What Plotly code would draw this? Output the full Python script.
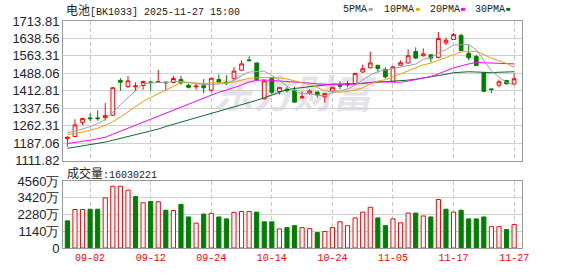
import base64
import plotly.graph_objects as go

# ---------------- data ----------------
dates = ["08-28", "08-29", "09-01", "09-02", "09-03", "09-04", "09-05", "09-08", "09-09", "09-10",
         "09-11", "09-12", "09-15", "09-16", "09-17", "09-18", "09-19", "09-22", "09-23", "09-24",
         "09-25", "09-26", "09-29", "09-30", "10-09", "10-10", "10-13", "10-14", "10-15", "10-16",
         "10-17", "10-20", "10-21", "10-22", "10-23", "10-24", "10-27", "10-28", "10-29", "10-30",
         "10-31", "11-03", "11-04", "11-05", "11-06", "11-07", "11-10", "11-11", "11-12", "11-13",
         "11-14", "11-17", "11-18", "11-19", "11-20", "11-21", "11-24", "11-25", "11-26", "11-27"]

opens = [1207, 1216, 1277, 1296, 1296, 1297, 1308, 1458, 1431, 1430,
         1436, 1451, 1449, 1447, 1449, 1462, 1437, 1430, 1435, 1416,
         1462, 1450, 1465, 1502, 1546, 1533, 1378, 1470, 1410, 1420,
         1414, 1383, 1403, 1408, 1387, 1411, 1436, 1438, 1442, 1494,
         1512, 1523, 1505, 1453, 1523, 1533, 1582, 1564, 1568, 1557,
         1620, 1634, 1652, 1575, 1561, 1491, 1421, 1437, 1457, 1442]
highs = [1216, 1290, 1297, 1315, 1329, 1360, 1430, 1467, 1477, 1449,
         1457, 1456, 1503, 1452, 1477, 1477, 1444, 1442, 1463, 1468,
         1483, 1480, 1515, 1544, 1561, 1535, 1458, 1472, 1430, 1430,
         1430, 1410, 1420, 1409, 1403, 1430, 1455, 1456, 1491, 1526,
         1582, 1524, 1515, 1521, 1544, 1592, 1600, 1596, 1572, 1666,
         1642, 1662, 1659, 1610, 1568, 1495, 1422, 1462, 1460, 1488]
lows = [1172, 1214, 1266, 1283, 1284, 1284, 1305, 1413, 1425, 1412,
        1418, 1414, 1447, 1414, 1445, 1439, 1423, 1418, 1402, 1407,
        1447, 1438, 1462, 1500, 1540, 1456, 1376, 1400, 1397, 1406,
        1362, 1378, 1395, 1384, 1362, 1408, 1420, 1428, 1438, 1491,
        1510, 1491, 1466, 1450, 1521, 1530, 1550, 1561, 1536, 1553,
        1610, 1632, 1584, 1544, 1519, 1408, 1403, 1428, 1440, 1440]
closes = [1213, 1266, 1293, 1293, 1293, 1306, 1426, 1450, 1456, 1434,
          1453, 1449, 1452, 1450, 1466, 1447, 1428, 1433, 1426, 1467,
          1451, 1448, 1498, 1529, 1543, 1462, 1456, 1407, 1428, 1414,
          1364, 1387, 1412, 1395, 1401, 1428, 1433, 1442, 1488, 1508,
          1533, 1509, 1473, 1516, 1534, 1564, 1554, 1572, 1554, 1638,
          1631, 1655, 1586, 1555, 1522, 1411, 1419, 1452, 1443, 1465]

# volume in 万 (10k units); 1 = up day (red hollow), 0 = down day (green)
volumes = [1850, 2623, 2623, 2643, 2643, 3415, 4207, 4207, 3943, 3503,
           3084, 3172, 3150, 2577, 2555, 2974, 2115, 1696, 2313, 2357,
           2115, 1983, 2423, 2489, 2489, 2445, 1784, 1784, 1300, 1388,
           1520, 1388, 1322, 1057, 1124, 1388, 1784, 1520, 2049, 2445,
           2776, 2049, 1520, 1983, 1718, 2379, 2379, 2181, 2115, 3304,
           2643, 2445, 2577, 1983, 1983, 2115, 1454, 1454, 1256, 1603]
vol_up = [0, 1, 1, 0, 0, 1, 1, 1, 1, 0,
          1, 0, 1, 0, 1, 0, 0, 1, 0, 1,
          0, 0, 1, 1, 1, 0, 0, 0, 1, 0,
          0, 1, 1, 0, 1, 1, 1, 1, 1, 1,
          1, 0, 0, 1, 1, 1, 0, 1, 0, 1,
          0, 1, 0, 0, 0, 0, 1, 1, 0, 1]

ma5 = [1231, 1238, 1248, 1259, 1272, 1290, 1322, 1354, 1386, 1414,
       1444, 1448, 1449, 1448, 1454, 1453, 1449, 1445, 1440, 1440,
       1441, 1445, 1458, 1479, 1494, 1496, 1498, 1479, 1459, 1433,
       1414, 1400, 1401, 1394, 1392, 1405, 1414, 1420, 1438, 1460,
       1481, 1496, 1502, 1508, 1513, 1519, 1528, 1548, 1556, 1576,
       1590, 1610, 1613, 1613, 1590, 1546, 1499, 1472, 1449, 1438]
ma10 = [1224, 1229, 1235, 1243, 1252, 1265, 1280, 1300, 1322, 1343,
        1367, 1385, 1401, 1417, 1434, 1448, 1449, 1447, 1444, 1447,
        1447, 1447, 1451, 1459, 1467, 1469, 1471, 1469, 1469, 1464,
        1455, 1449, 1440, 1427, 1413, 1409, 1407, 1410, 1416, 1426,
        1443, 1455, 1461, 1473, 1486, 1500, 1512, 1525, 1532, 1545,
        1555, 1569, 1580, 1584, 1583, 1568, 1554, 1542, 1531, 1514]
ma20 = [1186, 1190, 1195, 1200, 1206, 1213, 1226, 1239, 1252, 1265,
        1278, 1291, 1304, 1317, 1329, 1341, 1354, 1367, 1381, 1395,
        1407, 1416, 1426, 1438, 1451, 1458, 1460, 1458, 1456, 1455,
        1451, 1448, 1446, 1443, 1440, 1439, 1439, 1440, 1443, 1445,
        1449, 1452, 1451, 1450, 1450, 1455, 1460, 1468, 1474, 1485,
        1499, 1512, 1521, 1529, 1535, 1534, 1533, 1534, 1532, 1529]
ma30 = [1165, 1170, 1175, 1180, 1186, 1192, 1200, 1208, 1215, 1223,
        1230, 1238, 1248, 1259, 1269, 1280, 1289, 1297, 1306, 1315,
        1324, 1333, 1342, 1351, 1361, 1372, 1383, 1395, 1407, 1418,
        1423, 1427, 1431, 1434, 1438, 1442, 1442, 1442, 1443, 1446,
        1448, 1450, 1451, 1453, 1455, 1459, 1463, 1468, 1472, 1478,
        1484, 1491, 1494, 1495, 1494, 1492, 1491, 1493, 1493, 1495]

price_ticks = [1111.82, 1187.06, 1262.31, 1337.56, 1412.81, 1488.06, 1563.31, 1638.56, 1713.81]
price_tick_labels = ["1111.82", "1187.06", "1262.31", "1337.56", "1412.81",
                     "1488.06", "1563.31", "1638.56", "1713.81"]
vol_ticks = [0, 1140, 2280, 3420, 4560]
vol_tick_labels = ["0", "1140万", "2280万", "3420万", "4560万"]
date_ticks = ["09-02", "09-12", "09-24", "10-14", "10-24", "11-05", "11-17", "11-27"]

title_name = "电池"
title_code = "[BK1033] 2025-11-27 15:00"
vol_title = "成交量"
vol_value = ":16030221"
ma_names = ["5PMA", "10PMA", "20PMA", "30PMA"]
ma_colors = ["#a0a0a0", "#f0a000", "#ff00ff", "#0b6b2e"]

# ---------------- style ----------------
RED = "#ff0000"
GREEN = "#008000"
W, H = 578, 276
ML, MR, MT, MB = 55, 56, 21, 21
PW, PH = W - ML - MR, H - MT - MB
MONO = "Liberation Mono, DejaVu Sans Mono, monospace"
CJK = "Noto Sans CJK SC"
TXT = 10


def px(x):
    return (x - ML) / PW


def py(y):
    return (H - MB - y) / PH


fig = go.Figure()

fig.add_trace(go.Candlestick(
    x=dates, open=opens, high=highs, low=lows, close=closes,
    increasing=dict(line=dict(color=RED, width=1), fillcolor="#ffffff"),
    decreasing=dict(line=dict(color=GREEN, width=1), fillcolor=GREEN),
    whiskerwidth=0, xaxis="x", yaxis="y", hoverinfo="skip"))

for vals, col in zip([ma30, ma20, ma10, ma5], ma_colors[::-1]):
    fig.add_trace(go.Scatter(x=dates, y=vals, mode="lines",
                             line=dict(color=col, width=1),
                             xaxis="x", yaxis="y", hoverinfo="skip"))

fig.add_trace(go.Bar(
    x=dates, y=volumes,
    marker=dict(color=["#ffffff" if u else GREEN for u in vol_up],
                line=dict(color=[RED if u else GREEN for u in vol_up], width=1)),
    xaxis="x2", yaxis="y2", hoverinfo="skip"))

xcommon = dict(type="category", categoryorder="array", categoryarray=dates,
               range=[-0.58, 60.04], tickvals=date_ticks, ticktext=date_ticks,
               showgrid=True, gridcolor="#c8c8c8", griddash="4px,3px", gridwidth=1,
               showline=True, mirror=True, linecolor="#999999", linewidth=1,
               ticks="", zeroline=False, fixedrange=True)

ycommon = dict(showgrid=True, gridcolor="#d0d0d0", gridwidth=1,
               showline=True, mirror=True, linecolor="#999999", linewidth=1,
               ticks="", zeroline=False,
               tickfont=dict(family="Liberation Sans, Arial", size=13, color="#222233"))

# watermark as an SVG image underneath the traces
wm_svg = ('<svg xmlns="http://www.w3.org/2000/svg" width="180" height="46">'
          '<text x="2" y="40" font-family="Noto Sans CJK SC" font-weight="bold" '
          'font-size="42" fill="#e3e3e9" transform="skewX(-12) translate(8,0)">东方财富</text></svg>')
wm_src = "data:image/svg+xml;base64," + base64.b64encode(wm_svg.encode("utf-8")).decode("ascii")

annotations = [
    dict(x=px(56), y=py(9), xref="paper", yref="paper", xanchor="left", yanchor="middle",
         showarrow=False, align="left",
         text=f'<span style="font-family:{CJK};font-size:12px">{title_name}</span>{title_code}',
         font=dict(family=MONO, size=TXT, color="#222222")),
    dict(x=px(57), y=py(177), xref="paper", yref="paper", xanchor="left", yanchor="middle",
         showarrow=False, align="left",
         text=f'<span style="font-family:{CJK};font-size:12px">{vol_title}</span>{vol_value}',
         font=dict(family=MONO, size=TXT, color="#222222")),
]
shapes = []
leg_x = [338, 380, 426, 472]
leg_w = [24, 30, 30, 30]
for name, col, lx, lw in zip(ma_names, ma_colors, leg_x, leg_w):
    annotations.append(dict(x=px(lx), y=py(9), xref="paper", yref="paper",
                            xanchor="left", yanchor="middle", showarrow=False,
                            text=name, font=dict(family=MONO, size=TXT, color="#222222")))
    mx = lx + lw + 4
    shapes.append(dict(type="rect", xref="paper", yref="paper",
                       x0=px(mx), x1=px(mx + 4), y0=py(10.5), y1=py(7.5),
                       fillcolor=col, line=dict(width=0)))

fig.update_layout(
    width=W, height=H,
    margin=dict(l=ML, r=MR, t=MT, b=MB, pad=0),
    paper_bgcolor="#ffffff", plot_bgcolor="#ffffff",
    showlegend=False, bargap=0.45, boxgap=0.3, boxgroupgap=0.3,
    font=dict(family="Liberation Sans, Arial", size=12, color="#222222"),
    xaxis=dict(xcommon, domain=[0, 1], anchor="y", showticklabels=False,
               rangeslider=dict(visible=False)),
    xaxis2=dict(xcommon, domain=[0, 1], anchor="y2", matches="x", showticklabels=True,
                tickfont=dict(family=MONO, size=TXT, color=RED)),
    yaxis=dict(ycommon, domain=[py(165), 1], range=[price_ticks[0], price_ticks[-1]],
               tickvals=price_ticks, ticktext=price_tick_labels),
    yaxis2=dict(ycommon, domain=[0, py(186)], range=[vol_ticks[0], vol_ticks[-1]],
                tickvals=vol_ticks, ticktext=vol_tick_labels),
    annotations=annotations,
    shapes=shapes,
    images=[dict(source=wm_src, xref="paper", yref="paper", x=px(207), y=py(72),
                 sizex=px(380) - px(207), sizey=py(72) - py(116), xanchor="left", yanchor="top",
                 sizing="stretch", layer="below", opacity=1)],
)

fig.write_html("out.html")
